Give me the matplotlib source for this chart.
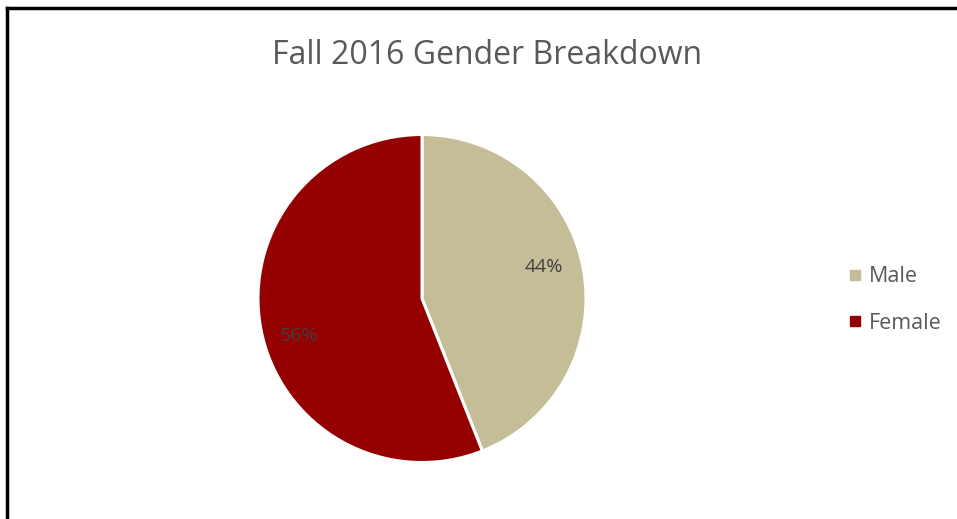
import matplotlib
matplotlib.use("Agg")
import matplotlib.pyplot as plt
from matplotlib.lines import Line2D

labels = ["Male", "Female"]
shares = [44, 56]
colors = ["#C4BD97", "#950000"]
title = "Fall 2016 Gender Breakdown"

W, H = 957, 519
plt.rcParams["font.family"] = ["Open Sans", "DejaVu Sans"]

fig = plt.figure(figsize=(W / 100, H / 100), dpi=100)
fig.patch.set_facecolor("white")

# pie axes: centre ~(422, 298.5) px, radius ~164 px
cx, cy, r = 422, 298.5, 164
ax = fig.add_axes([(cx - r) / W, (H - cy - r) / H, 2 * r / W, 2 * r / H])
wedges, _, autotexts = ax.pie(
    shares, colors=colors, startangle=90, counterclock=False,
    autopct="%d%%", pctdistance=0.78,
    wedgeprops=dict(edgecolor="white", linewidth=2.2),
    textprops=dict(color="#404040", fontsize=14),
)
ax.set_xlim(-1, 1); ax.set_ylim(-1, 1)
ax.set_aspect("equal")
# Excel-style label placement
for t, pos in zip(autotexts, [(0.745, 0.19), (-0.75, -0.23)]):
    t.set_position(pos)

fig.text(487 / W, 1 - 55 / H, title, ha="center", va="center",
         fontsize=23, color="#595959")

handles = [Line2D([], [], marker="s", ls="", markersize=7, color=c) for c in colors]
fig.legend(handles, labels, loc="center left", bbox_to_anchor=(825 / W, 1 - 300 / H),
           frameon=False, fontsize=15.5, labelcolor="#595959",
           handletextpad=0.15, labelspacing=1.2, handlelength=1.0)

# frame lines on top and left edges
fig.add_artist(Line2D([7 / W, 1], [1 - 8 / H, 1 - 8 / H], color="black", lw=2.5,
                      transform=fig.transFigure))
fig.add_artist(Line2D([7 / W, 7 / W], [0, 1 - 8 / H], color="black", lw=2.5,
                      transform=fig.transFigure))

fig.savefig("out.png", dpi=100)
